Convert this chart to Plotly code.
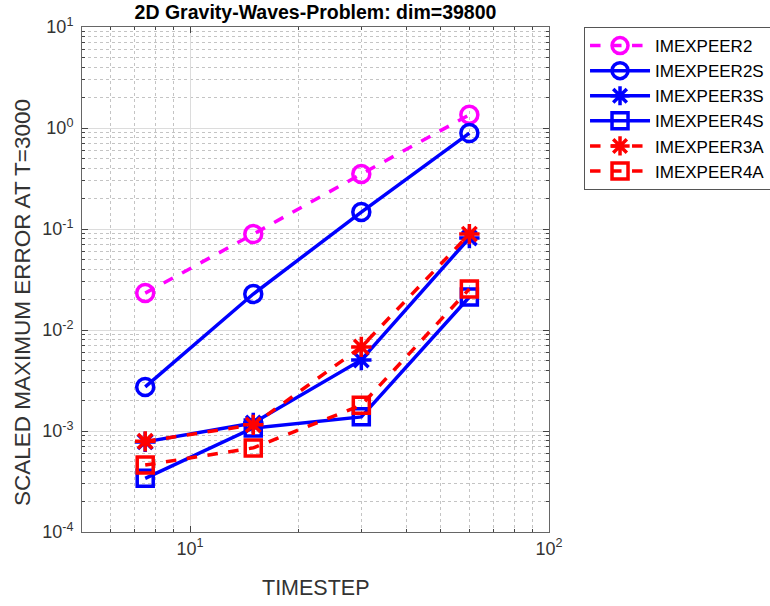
import plotly.graph_objects as go

timesteps = [7.5, 15, 30, 60]
err_2 = [0.0232, 0.089, 0.35, 1.35]
err_2s = [0.00273, 0.0227, 0.147, 0.89]
err_3s = [7.8e-4, 1.2e-3, 5.05e-3, 0.0815]
err_4s = [3.4e-4, 1.07e-3, 1.38e-3, 0.0212]
err_3a = [7.9e-4, 1.15e-3, 6.8e-3, 0.089]
err_4a = [4.6e-4, 6.8e-4, 1.8e-3, 0.0255]

x_tickvals = [10, 100]
x_ticktext = ["10<sup>1</sup>", "10<sup>2</sup>"]
x_minor = [6, 7, 8, 9, 20, 30, 40, 50, 60, 70, 80, 90]
y_tickvals = [1e-4, 1e-3, 1e-2, 1e-1, 1, 10]
y_ticktext = ["10<sup>-4</sup>", "10<sup>-3</sup>", "10<sup>-2</sup>", "10<sup>-1</sup>", "10<sup>0</sup>", "10<sup>1</sup>"]
y_minor = [m * d for d in [1e-4, 1e-3, 1e-2, 1e-1, 1] for m in range(2, 10)]

series = [
    ("IMEXPEER2", err_2, "#FF00FF", "dash", "circle-open"),
    ("IMEXPEER2S", err_2s, "#0000FF", "solid", "circle-open"),
    ("IMEXPEER3S", err_3s, "#0000FF", "solid", "asterisk-open"),
    ("IMEXPEER4S", err_4s, "#0000FF", "solid", "square-open"),
    ("IMEXPEER3A", err_3a, "#FF0000", "dash", "asterisk-open"),
    ("IMEXPEER4A", err_4a, "#FF0000", "dash", "square-open"),
]

fig = go.Figure()
for name, ys, color, dash, sym in series:
    fig.add_trace(go.Scatter(
        x=timesteps, y=ys, name=name, mode="lines+markers",
        line=dict(color=color, width=3.5, dash=dash),
        marker=dict(symbol=sym, size=17 if "circle" in sym else (16 if "square" in sym else 17),
                    color=color, line=dict(color=color, width=3.5)),
    ))

font = "Liberation Sans, Arial"
axis_common = dict(
    type="log", showline=True, linecolor="#666", linewidth=1, mirror="ticks",
    ticks="inside", ticklen=6, tickcolor="#444", automargin=False,
    showgrid=True, gridcolor="#dcdcdc", gridwidth=1,
    tickmode="array",
    tickfont=dict(family=font, size=18, color="#333"),
    zeroline=False,
)

fig.update_layout(
    width=770, height=606,
    margin=dict(l=82, r=221, t=27, b=74, autoexpand=False),
    paper_bgcolor="white", plot_bgcolor="white",
    title=dict(text="<b>2D Gravity-Waves-Problem: dim=39800</b>", x=315.5 / 770,
               xanchor="center", y=1 - 12 / 606, yanchor="middle",
               font=dict(family=font, size=19.5, color="black")),
    xaxis=dict(axis_common, range=[0.69897, 2], tickvals=x_tickvals, ticktext=x_ticktext,
               minor=dict(tickmode="array", tickvals=x_minor, showgrid=True, gridcolor="#c4c4c4",
                          griddash="dot", gridwidth=1, ticks="inside", ticklen=3, tickcolor="#444")),
    yaxis=dict(axis_common, range=[-4, 1], tickvals=y_tickvals, ticktext=y_ticktext,
               ticklabelstandoff=4,
               minor=dict(tickmode="array", tickvals=y_minor, showgrid=True, gridcolor="#c4c4c4",
                          griddash="dot", gridwidth=1, ticks="inside", ticklen=3, tickcolor="#444")),
    legend=dict(x=1.075, y=1.0, xanchor="left", yanchor="top",
                bordercolor="#555", borderwidth=1, bgcolor="white",
                font=dict(family=font, size=17, color="black"),
                tracegroupgap=0, itemwidth=60),
    showlegend=True,
    annotations=[
        dict(text="TIMESTEP", xref="paper", yref="paper", x=0.5, y=(532 - 588) / 505,
             xanchor="center", yanchor="middle", showarrow=False,
             font=dict(family=font, size=21.5, color="#333")),
        dict(text="SCALED MAXIMUM ERROR AT T=3000", xref="paper", yref="paper",
             x=(22 - 82) / 467, y=(532 - 303) / 505, textangle=-90,
             xanchor="center", yanchor="middle", showarrow=False,
             font=dict(family=font, size=22.5, color="#333")),
    ],
)

fig.write_html("out.html", post_script="document.body.style.margin='0';",
               config={"displayModeBar": False})
